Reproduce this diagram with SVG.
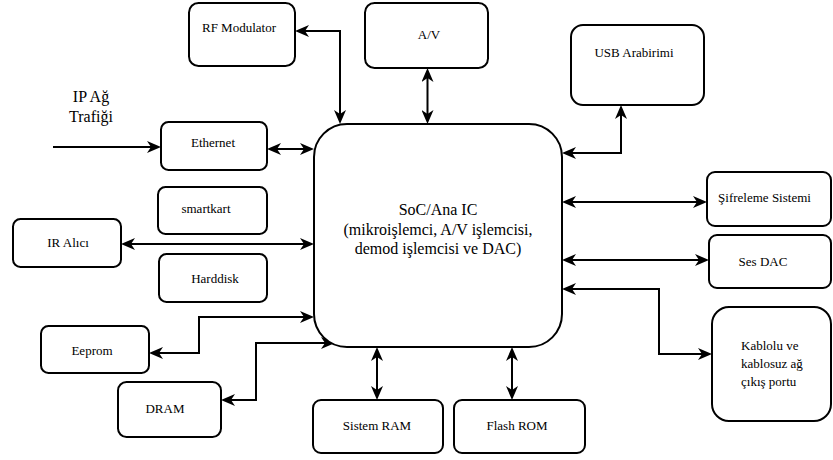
<svg xmlns="http://www.w3.org/2000/svg" width="833" height="460" viewBox="0 0 833 460">
  <style>
    .box { fill: #ffffff; stroke: #000000; stroke-width: 2; }
    .lbl { font-family: "Liberation Serif", "Times New Roman", serif; font-size: 13px; fill: #000000; text-anchor: middle; }
    .big { font-family: "Liberation Serif", "Times New Roman", serif; font-size: 16px; fill: #000000; text-anchor: middle; }
    .left { text-anchor: start; }
    .wire { fill: none; stroke: #000000; stroke-width: 2; }
    .both { marker-start: url(#head); marker-end: url(#head); }
    .one { marker-end: url(#head); }
  </style>
  <defs>
    <marker id="head" viewBox="0 0 14 12" refX="7" refY="6" markerWidth="14" markerHeight="12" markerUnits="userSpaceOnUse" orient="auto-start-reverse">
      <path d="M0,0 L14,6 L0,12 L4,6 Z" fill="#000000"/>
    </marker>
  </defs>

  <rect width="833" height="460" fill="#ffffff"/>

  <!-- connectors -->
  <g id="connectors">
    <path class="wire both" d="M302 31 H340 V117"/>
    <path class="wire both" d="M427.5 75 V117"/>
    <path class="wire both" d="M569 153 H621 V112"/>
    <path class="wire one" d="M53 147 H154"/>
    <path class="wire both" d="M274 149 H307"/>
    <path class="wire both" d="M569 202 H700"/>
    <path class="wire both" d="M569 260 H702"/>
    <path class="wire both" d="M128 244 H307"/>
    <path class="wire both" d="M569 289 H659 V354 H705"/>
    <path class="wire both" d="M156 353 H199 V317 H307"/>
    <path class="wire both" d="M228 400 H256 V343 H328"/>
    <path class="wire both" d="M377 354 V393"/>
    <path class="wire both" d="M512 354 V393"/>
  </g>

  <!-- incoming traffic label -->
  <g id="ip-traffic">
    <text class="big" x="91" y="102">IP Ağ</text>
    <text class="big" x="91" y="122">Trafiği</text>
  </g>

  <g id="soc">
    <rect class="box" x="314" y="124" width="248" height="223" rx="33" ry="33"/>
    <text class="big" x="438" y="215">SoC/Ana IC</text>
    <text class="big" x="438" y="234.5">(mikroişlemci, A/V işlemcisi,</text>
    <text class="big" x="438" y="254">demod işlemcisi ve DAC)</text>
  </g>

  <g id="rf-modulator">
    <rect class="box" x="189" y="3" width="106" height="63" rx="9.5" ry="9.5"/>
    <text class="lbl" x="239" y="32">RF Modulator</text>
  </g>

  <g id="av">
    <rect class="box" x="365" y="3" width="123" height="65" rx="9.5" ry="9.5"/>
    <text class="lbl" x="429" y="39">A/V</text>
  </g>

  <g id="usb">
    <rect class="box" x="571" y="25" width="133" height="80" rx="12" ry="12"/>
    <text class="lbl" x="634" y="57">USB Arabirimi</text>
  </g>

  <g id="ethernet">
    <rect class="box" x="161" y="122" width="106" height="48" rx="7.5" ry="7.5"/>
    <text class="lbl" x="213" y="147">Ethernet</text>
  </g>

  <g id="smartkart">
    <rect class="box" x="158" y="187" width="109" height="47" rx="7.5" ry="7.5"/>
    <text class="lbl" x="206" y="213">smartkart</text>
  </g>

  <g id="ir">
    <rect class="box" x="13" y="219" width="108" height="48" rx="7.5" ry="7.5"/>
    <text class="lbl" x="68" y="247">IR Alıcı</text>
  </g>

  <g id="harddisk">
    <rect class="box" x="159" y="254" width="108" height="48" rx="7.5" ry="7.5"/>
    <text class="lbl" x="215" y="283">Harddisk</text>
  </g>

  <g id="eeprom">
    <rect class="box" x="41" y="326" width="108" height="47" rx="7.5" ry="7.5"/>
    <text class="lbl" x="92" y="355">Eeprom</text>
  </g>

  <g id="dram">
    <rect class="box" x="118" y="382" width="103" height="55" rx="8.5" ry="8.5"/>
    <text class="lbl" x="165" y="413">DRAM</text>
  </g>

  <g id="sistem-ram">
    <rect class="box" x="313" y="400" width="130" height="53" rx="8" ry="8"/>
    <text class="lbl" x="377" y="430">Sistem RAM</text>
  </g>

  <g id="flash-rom">
    <rect class="box" x="454" y="400" width="131" height="53" rx="8" ry="8"/>
    <text class="lbl" x="517" y="430">Flash ROM</text>
  </g>

  <g id="sifreleme">
    <rect class="box" x="707" y="172" width="124" height="54" rx="8" ry="8"/>
    <text class="lbl" x="764.5" y="202">Şifreleme Sistemi</text>
  </g>

  <g id="ses-dac">
    <rect class="box" x="709" y="235" width="122" height="53" rx="8" ry="8"/>
    <text class="lbl" x="763" y="266">Ses DAC</text>
  </g>

  <g id="kablolu">
    <rect class="box" x="712" y="307" width="119" height="114" rx="17" ry="17"/>
    <text class="lbl left" x="741" y="350">Kablolu ve</text>
    <text class="lbl left" x="741" y="368">kablosuz ağ</text>
    <text class="lbl left" x="741" y="386">çıkış portu</text>
  </g>
</svg>
